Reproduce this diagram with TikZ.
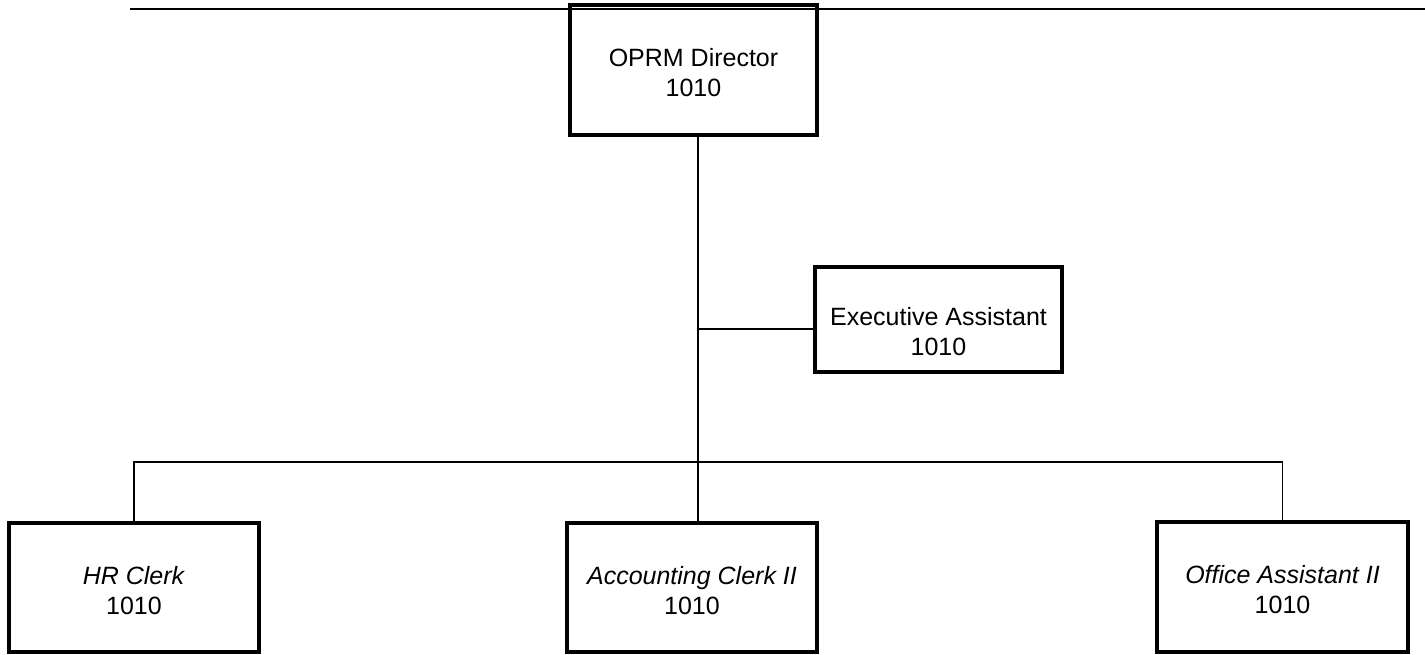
\documentclass[tikz,border=0pt]{standalone}
\usepackage{fontspec}
\setmainfont{Liberation Sans}
\begin{document}
\begin{tikzpicture}[x=1pt,y=-1pt,
  box/.style={draw, line width=3.2pt, inner sep=0pt},
  txt/.style={align=center, inner sep=0pt, font=\fontsize{25}{30}\selectfont},
  link/.style={line width=1.5pt}]
\useasboundingbox[fill=white] (0,0) rectangle (1425,655);
% top rule
\coordinate (tl) at (130,9);
\coordinate (tr) at (1425,9);
\draw[link] (tl) -- (tr);
% boxes
\node[box, minimum width=247pt, minimum height=130pt] (dir) at (693.5,70) {};
\node[txt] (dirT) at ([yshift=-2.5pt]dir.center) {OPRM Director\\1010};
\node[box, minimum width=247pt, minimum height=105pt] (exec) at (938.5,319.5) {};
\node[txt] (execT) at ([yshift=-12pt]exec.center) {Executive Assistant\\1010};
\node[box, minimum width=250pt, minimum height=129pt] (hr) at (134,587.5) {};
\node[txt] (hrT) at ([yshift=-3pt]hr.center) {\textit{HR Clerk}\\1010};
\node[box, minimum width=250pt, minimum height=129pt] (acc) at (692,587.5) {};
\node[txt] (accT) at ([yshift=-3pt]acc.center) {\textit{Accounting Clerk II}\\1010};
\node[box, minimum width=251pt, minimum height=130pt] (off) at (1282.5,587) {};
\node[txt] (offT) at ([yshift=-3pt]off.center) {\textit{Office Assistant II}\\1010};
% connectors
\coordinate (trunk) at (698,462);
\coordinate (ea) at (698,329);
\draw[link] (trunk |- dir.south) -- (trunk |- acc.north);
\draw[link] (ea) -- (ea -| exec.west);
\draw[link] (hr.north) -- (hr.north |- trunk) -- (off.north |- trunk) -- (off.north);
\end{tikzpicture}
\end{document}
